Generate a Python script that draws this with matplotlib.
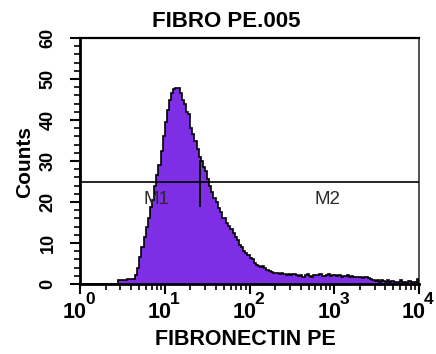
import numpy as np
import matplotlib
matplotlib.use("Agg")
import matplotlib.pyplot as plt
from matplotlib.ticker import LogLocator, MultipleLocator, NullFormatter

# Histogram: log-spaced channels, 0.025 decade wide, from 10^0 to 10^4 (160 channels)
bin_width_decades = 0.025
counts = [0] * 18 + [
    1.0, 1.0, 1.0, 1.0, 1.1, 1.1, 1.2, 1.3,
    2.2, 4.0, 6.5, 9.0, 11.5, 14.0, 16.0, 18.8, 20.5, 24.0,
    26.5, 29.0, 32.5, 36.0, 39.5, 42.5, 45.0, 46.5, 47.5, 47.8,
    47.8, 46.5, 45.0, 44.0, 42.0, 41.5, 38.0, 36.5, 35.0, 33.0,
    31.0, 30.0, 28.5, 27.5, 25.5, 24.0, 22.5, 21.0, 20.0, 18.5,
    17.5, 16.0, 16.2, 15.0, 14.2, 13.5, 12.5, 11.5, 10.8, 9.5,
    9.0, 8.0, 7.5, 7.0, 6.3, 6.0, 5.2, 4.7, 4.5, 4.2,
    4.4, 3.8, 3.5, 3.2, 3.0, 2.7, 2.6, 2.7, 2.5, 2.6,
    2.4, 2.3, 2.4, 2.2, 2.5, 2.4, 2.2, 2.0, 2.1, 1.8,
    2.1, 2.4, 2.0, 1.8, 2.2, 2.3, 2.1, 2.4, 1.9, 2.0,
    2.3, 2.4, 2.0, 2.2, 2.3, 2.0, 2.1, 1.8, 2.0, 1.9,
    2.1, 1.8, 1.9, 1.7, 1.8, 1.6, 1.7, 1.5, 1.7, 1.6,
    1.4, 1.3, 1.0, 0.8, 0.9, 0.6, 1.0, 0.7, 0.5, 0.9,
    0.6, 0.8, 0.4, 0.6, 0.5, 0.9, 0.4, 0.6, 0.3, 0.7,
    0.4, 0.6, 0.5, 1.3]

x_decades = [0, 1, 2, 3, 4]

marker_level = 25
marker_edges = [1, 26, 10000]
marker_labels = ["M1", "M2"]
marker_label_x = [7.9, 822]
marker_label_y = [20.5, 20.7]

title = "FIBRO PE.005"
xlabel = "FIBRONECTIN PE"
ylabel = "Counts"

plt.rcParams['font.family'] = ['Liberation Sans', 'DejaVu Sans']
plt.rcParams['font.weight'] = 'bold'

W, H = 436, 354
fig = plt.figure(figsize=(W / 100, H / 100), dpi=100)
ax = fig.add_axes([80 / W, 1 - 284 / H, 339 / W, 246 / H])

edges = 10 ** (np.arange(len(counts) + 1) * bin_width_decades)
c = np.array(counts)
ax.stairs(c, edges, fill=True, color='#7E2FE6', zorder=2)
ax.stairs(c, edges, color='black', lw=1.2, zorder=3)

# marker bar
ax.plot([marker_edges[0], marker_edges[-1]], [marker_level, marker_level],
        color='black', lw=1.2, zorder=4)
for e in marker_edges[:-1]:
    ax.plot([e, e], [marker_level - 6, marker_level + 5], color='black', lw=1.4,
            zorder=4, clip_on=False)
for lab, lx, ly in zip(marker_labels, marker_label_x, marker_label_y):
    ax.text(lx, ly, lab, ha='center', va='center', fontsize=13.5, color='#2a2a2a',
            fontweight='normal', zorder=5)

ax.set_xscale('log')
ax.set_xlim(1, 10000)
ax.set_ylim(0, 60)

ax.xaxis.set_major_locator(LogLocator(base=10, numticks=10))
ax.xaxis.set_minor_locator(LogLocator(base=10, subs=np.arange(2, 10), numticks=10))
ax.xaxis.set_major_formatter(NullFormatter())
ax.xaxis.set_minor_formatter(NullFormatter())
ax.yaxis.set_major_locator(MultipleLocator(10))
ax.yaxis.set_minor_locator(MultipleLocator(2))

ax.tick_params(axis='both', which='major', direction='out', length=7, width=1.5, color='black')
ax.tick_params(axis='both', which='minor', direction='out', length=4.5, width=1.2)
ax.tick_params(axis='y', which='major', labelsize=13, pad=10, labelrotation=90)
for lab in ax.get_yticklabels():
    lab.set_va('center')

# x tick labels: "10" with a large raised exponent
xt = ax.get_xaxis_transform()
for d in x_decades:
    ax.annotate('10', xy=(10.0 ** d, 0), xycoords=xt, xytext=(7, -34),
                textcoords='offset pixels', ha='right', va='baseline',
                fontsize=15.5, annotation_clip=False)
    ax.annotate(str(d), xy=(10.0 ** d, 0), xycoords=xt, xytext=(5, -8),
                textcoords='offset pixels', ha='left', va='top',
                fontsize=12.5, annotation_clip=False)

for s in ['left', 'bottom']:
    ax.spines[s].set_linewidth(2)
ax.spines['top'].set_linewidth(1.6)
ax.spines['right'].set_linewidth(1.3)
ax.spines['right'].set_color('#444444')

fig.text(226 / W, 1 - 27 / H, title, ha='center', va='baseline', fontsize=16)
fig.text(245 / W, 1 - 345 / H, xlabel, ha='center', va='baseline', fontsize=15.5)
fig.text(25 / W, 1 - 162 / H, ylabel, ha='center', va='center', rotation=90, fontsize=15)

fig.savefig('out.png', dpi=100)
